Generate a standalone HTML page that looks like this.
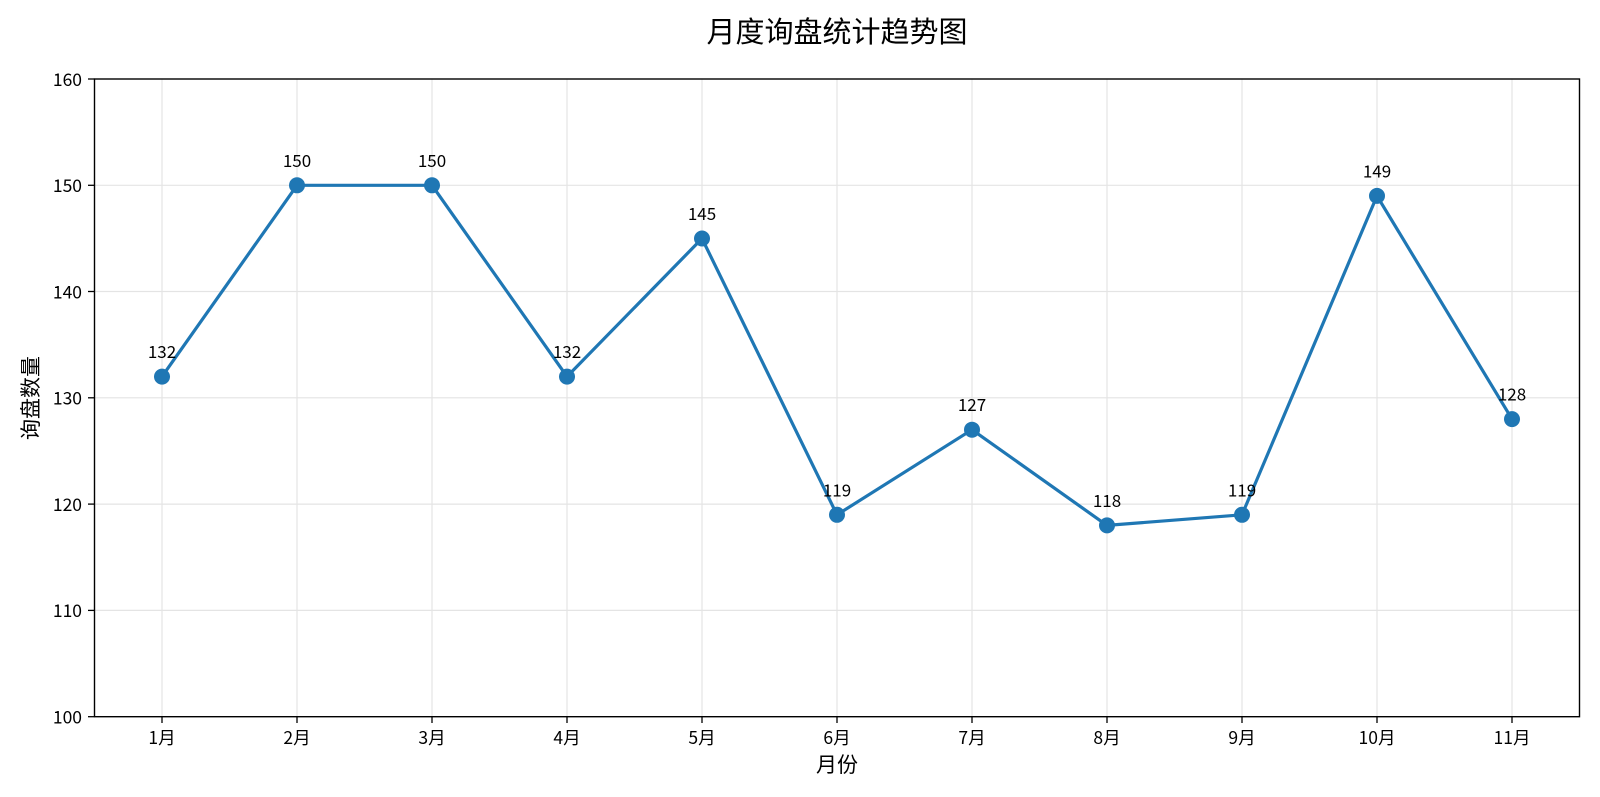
<!DOCTYPE html>
<html>
<head>
<meta charset="utf-8">
<style>
  html, body { margin: 0; padding: 0; background: #ffffff; }
  svg { display: block; }
  text { font-family: "Noto Sans CJK SC", "Liberation Sans", sans-serif; fill: #000; }
</style>
</head>
<body>
<svg width="1600" height="797" viewBox="0 0 1600 797" xmlns="http://www.w3.org/2000/svg">
  <rect x="0" y="0" width="1600" height="797" fill="#ffffff"/>

  <!-- Title -->
  <text x="837" y="42" font-size="29" text-anchor="middle">月度询盘统计趋势图</text>

  <!-- Grid lines -->
  <g stroke="#e4e4e4" stroke-width="1.2">
    <!-- horizontal -->
    <line x1="94.5" y1="610.4" x2="1579.5" y2="610.4"/>
    <line x1="94.5" y1="504.1" x2="1579.5" y2="504.1"/>
    <line x1="94.5" y1="397.8" x2="1579.5" y2="397.8"/>
    <line x1="94.5" y1="291.5" x2="1579.5" y2="291.5"/>
    <line x1="94.5" y1="185.3" x2="1579.5" y2="185.3"/>
    <!-- vertical -->
    <line x1="162" y1="79" x2="162" y2="716.7"/>
    <line x1="297" y1="79" x2="297" y2="716.7"/>
    <line x1="432" y1="79" x2="432" y2="716.7"/>
    <line x1="567" y1="79" x2="567" y2="716.7"/>
    <line x1="702" y1="79" x2="702" y2="716.7"/>
    <line x1="837" y1="79" x2="837" y2="716.7"/>
    <line x1="972" y1="79" x2="972" y2="716.7"/>
    <line x1="1107" y1="79" x2="1107" y2="716.7"/>
    <line x1="1242" y1="79" x2="1242" y2="716.7"/>
    <line x1="1377" y1="79" x2="1377" y2="716.7"/>
    <line x1="1512" y1="79" x2="1512" y2="716.7"/>
  </g>

  <!-- Axes frame -->
  <rect x="94.5" y="79" width="1485" height="637.7" fill="none" stroke="#000" stroke-width="1.4"/>

  <!-- Y ticks -->
  <g stroke="#000" stroke-width="1.3">
    <line x1="88" y1="716.7" x2="94.5" y2="716.7"/>
    <line x1="88" y1="610.4" x2="94.5" y2="610.4"/>
    <line x1="88" y1="504.1" x2="94.5" y2="504.1"/>
    <line x1="88" y1="397.8" x2="94.5" y2="397.8"/>
    <line x1="88" y1="291.5" x2="94.5" y2="291.5"/>
    <line x1="88" y1="185.3" x2="94.5" y2="185.3"/>
    <line x1="88" y1="79" x2="94.5" y2="79"/>
  </g>
  <g font-size="17.5" text-anchor="end">
    <text x="82" y="723.5">100</text>
    <text x="82" y="617.2">110</text>
    <text x="82" y="510.9">120</text>
    <text x="82" y="404.6">130</text>
    <text x="82" y="298.3">140</text>
    <text x="82" y="192.1">150</text>
    <text x="82" y="85.8">160</text>
  </g>

  <!-- X ticks -->
  <g stroke="#000" stroke-width="1.3">
    <line x1="162" y1="716.7" x2="162" y2="723"/>
    <line x1="297" y1="716.7" x2="297" y2="723"/>
    <line x1="432" y1="716.7" x2="432" y2="723"/>
    <line x1="567" y1="716.7" x2="567" y2="723"/>
    <line x1="702" y1="716.7" x2="702" y2="723"/>
    <line x1="837" y1="716.7" x2="837" y2="723"/>
    <line x1="972" y1="716.7" x2="972" y2="723"/>
    <line x1="1107" y1="716.7" x2="1107" y2="723"/>
    <line x1="1242" y1="716.7" x2="1242" y2="723"/>
    <line x1="1377" y1="716.7" x2="1377" y2="723"/>
    <line x1="1512" y1="716.7" x2="1512" y2="723"/>
  </g>
  <g font-size="17.5" text-anchor="middle">
    <text x="162" y="744">1月</text>
    <text x="297" y="744">2月</text>
    <text x="432" y="744">3月</text>
    <text x="567" y="744">4月</text>
    <text x="702" y="744">5月</text>
    <text x="837" y="744">6月</text>
    <text x="972" y="744">7月</text>
    <text x="1107" y="744">8月</text>
    <text x="1242" y="744">9月</text>
    <text x="1377" y="744">10月</text>
    <text x="1512" y="744">11月</text>
  </g>

  <!-- Axis labels -->
  <text x="837" y="772" font-size="21" text-anchor="middle">月份</text>
  <text x="38" y="398" font-size="21" text-anchor="middle" transform="rotate(-90 38 398)">询盘数量</text>

  <!-- Series line -->
  <polyline fill="none" stroke="#1f77b4" stroke-width="3.2" stroke-linejoin="round" stroke-linecap="round"
    points="162,376.6 297,185.3 432,185.3 567,376.6 702,238.5 837,514.8 972,429.7 1107,525.4 1242,514.8 1377,195.9 1512,419.1"/>

  <!-- Markers -->
  <g fill="#1f77b4">
    <circle cx="162" cy="376.6" r="8"/>
    <circle cx="297" cy="185.3" r="8"/>
    <circle cx="432" cy="185.3" r="8"/>
    <circle cx="567" cy="376.6" r="8"/>
    <circle cx="702" cy="238.5" r="8"/>
    <circle cx="837" cy="514.8" r="8"/>
    <circle cx="972" cy="429.7" r="8"/>
    <circle cx="1107" cy="525.4" r="8"/>
    <circle cx="1242" cy="514.8" r="8"/>
    <circle cx="1377" cy="195.9" r="8"/>
    <circle cx="1512" cy="419.1" r="8"/>
  </g>

  <!-- Annotations -->
  <g font-size="17" text-anchor="middle">
    <text x="162" y="358.1">132</text>
    <text x="297" y="166.8">150</text>
    <text x="432" y="166.8">150</text>
    <text x="567" y="358.1">132</text>
    <text x="702" y="220">145</text>
    <text x="837" y="496.3">119</text>
    <text x="972" y="411.2">127</text>
    <text x="1107" y="506.9">118</text>
    <text x="1242" y="496.3">119</text>
    <text x="1377" y="177.4">149</text>
    <text x="1512" y="400.6">128</text>
  </g>
</svg>
</body>
</html>
